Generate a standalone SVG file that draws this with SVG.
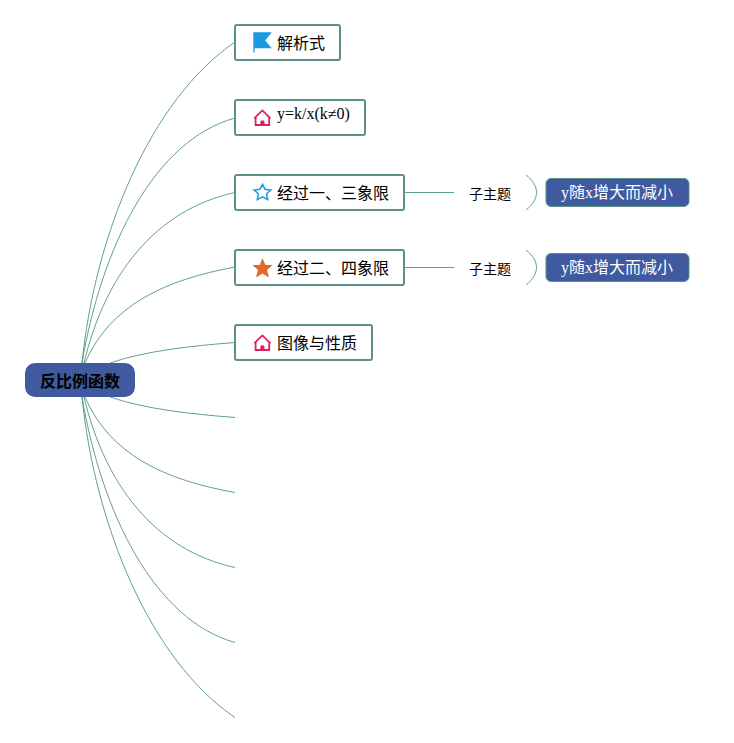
<svg xmlns="http://www.w3.org/2000/svg" width="734" height="743" viewBox="0 0 734 743">
<defs>
<g id="home"><path d="M254.300 118.300L262.400 110.400L270.500 118.300M255.600 117V125H269.200V117" fill="none" stroke="#d8235c" stroke-width="1.800"/><path d="M260.300 125V121.500Q262.400 118.800 264.500 121.500V125Z" fill="#d8235c"/></g>
</defs>
<style>
text{font-family:"Liberation Serif","Noto Sans CJK SC",serif;font-size:16px;fill:#000}
.n{fill:#fff;stroke:#5b9186;stroke-width:2}
.c{fill:none;stroke:#4f9583;stroke-width:.9}
.b{fill:#3f5a9f;stroke:#5b9186;stroke-width:1}
.cjk{font-family:"Noto Sans CJK SC","Liberation Sans",sans-serif}
</style>
<rect width="734" height="743" fill="#fff"/>
<g id="connectors">
<path class="c" d="M82 363C95 235 150 100 235 42"/>
<path class="c" d="M82 363C102 245 155 140 235 118"/>
<path class="c" d="M84 363C105 275 155 210 235 192.500"/>
<path class="c" d="M85 363C110 305 165 280 235 267"/>
<path class="c" d="M110 363C145 351 190 346 235 342.500"/>
<path class="c" d="M110 397C145 409 190 414 235 417.500"/>
<path class="c" d="M85 397C110 455 165 480 235 492.500"/>
<path class="c" d="M84 397C105 485 155 550 235 567.500"/>
<path class="c" d="M82 397C102 515 155 620 235 642.500"/>
<path class="c" d="M82 397C95 525 150 660 235 717.500"/>
<path class="c" d="M405 192.500H454"/>
<path class="c" d="M405 267.500H454"/>
<path class="c" d="M526 175C540 186 540 199 526 210"/>
<path class="c" d="M526 250C540 261 540 274 526 285"/>
</g>
<g id="root"><rect x="25" y="363" width="110" height="34" rx="10" fill="#3f5a9f"/><text class="cjk" x="80" y="386.500" text-anchor="middle" font-weight="700">反比例函数</text></g>
<g id="node-1"><rect class="n" x="235" y="25" width="105" height="35" rx="2"/><path d="M253.300 32.300H271.800L265.200 40.500L271.800 48.300H254.600V52.500H253.300Z" fill="#1a9ae0"/><text class="cjk" x="277" y="48.500">解析式</text></g>
<g id="node-2"><rect class="n" x="235" y="100" width="130" height="35" rx="2"/><use href="#home"/><text x="277" y="119">y=k/x(k≠0)</text></g>
<g id="node-3"><rect class="n" x="235" y="175" width="169" height="35" rx="2"/><path d="M262.500 184.300L265 189.200L270.900 190L266.600 193.800L267.700 199.600L262.500 196.800L257.300 199.600L258.400 193.800L254.100 190L260 189.200Z" fill="none" stroke="#1a9ae0" stroke-width="1.500"/><text class="cjk" x="277" y="198.500">经过一、三象限</text></g>
<g id="node-4"><rect class="n" x="235" y="250" width="169" height="35" rx="2"/><path d="M262.500 258L265.300 265H272.500L267 270L269 277.500L262.500 273.500L256 277.500L258 270L252.500 265H259.700Z" fill="#e2672f"/><text class="cjk" x="277" y="273.500">经过二、四象限</text></g>
<g id="node-5"><rect class="n" x="235" y="325" width="137" height="35" rx="2"/><use href="#home" y="225"/><text class="cjk" x="277" y="348.500">图像与性质</text></g>
<g id="sub-1"><text class="cjk" x="490" y="198.500" text-anchor="middle" style="font-size:14px">子主题</text></g>
<g id="sub-2"><text class="cjk" x="490" y="274" text-anchor="middle" style="font-size:14px">子主题</text></g>
<g id="leaf-1"><rect class="b" x="546" y="178.500" width="143" height="28" rx="5"/><text x="561" y="198" style="fill:#fff">y随x增大而减小</text></g>
<g id="leaf-2"><rect class="b" x="546" y="253.500" width="143" height="28" rx="5"/><text x="561" y="273" style="fill:#fff">y随x增大而减小</text></g>
</svg>
